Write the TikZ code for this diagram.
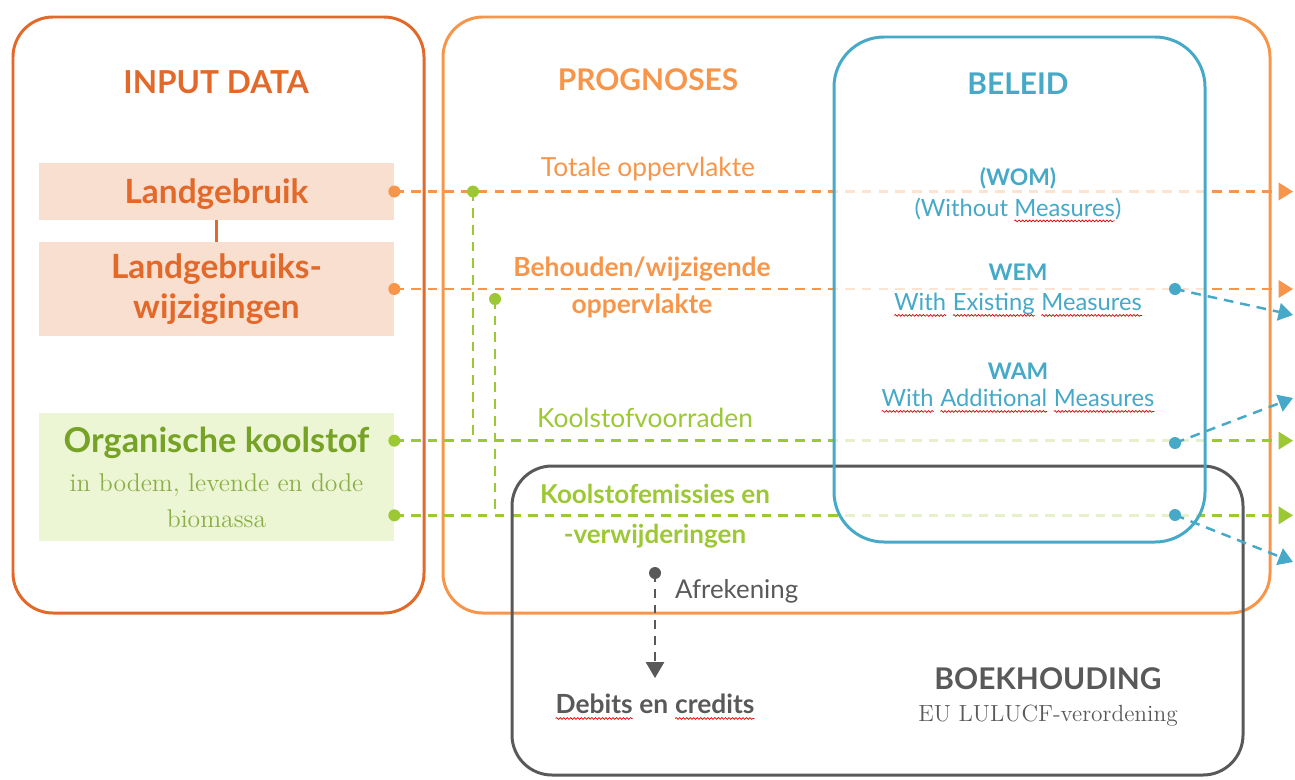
\documentclass[tikz,border=0pt]{standalone}
\usepackage{fontspec}
\setsansfont{Lato}
\definecolor{inorange}{HTML}{E2692A}
\definecolor{progorange}{HTML}{F7964A}
\definecolor{peach}{HTML}{F9DFD0}
\definecolor{leaf}{HTML}{9CC834}
\definecolor{leafdark}{HTML}{76A226}
\definecolor{leafserif}{HTML}{8AAF45}
\definecolor{leaflight}{HTML}{ECF6D4}
\definecolor{policyblue}{HTML}{45A9C7}
\definecolor{ledger}{HTML}{595959}
\usepackage{tikz}
\usetikzlibrary{arrows.meta,positioning,calc,decorations.pathmorphing}

\newcommand\spellwave[1]{\tikz[baseline=(sw.base)]{%
  \node[inner sep=0pt, outer sep=0pt, anchor=base] (sw) {#1};
  \draw[red!85!black, line width=0.4pt, decorate,
    decoration={snake, amplitude=0.5pt, segment length=2pt}]
    ([yshift=-2.6pt]sw.base west) -- ([yshift=-2.6pt]sw.base east);}}

\begin{document}
\begin{tikzpicture}[
  groupframe/.style={line width=1.7pt, rounded corners=0.8cm},
  inbox/.style={rectangle, minimum width=7.1cm, inner sep=0pt, align=center},
  boxhead/.style={font=\sffamily\bfseries\fontsize{17}{20}\selectfont},
  flow/.style={line width=1.4pt, dash pattern=on 5.5pt off 4pt},
  flowtip/.style={-{Triangle[length=2.9mm,width=3.5mm]}},
  lbl/.style={font=\sffamily\fontsize{15}{21}\selectfont, align=center},
  lblb/.style={font=\sffamily\bfseries\fontsize{15}{21}\selectfont, align=center},
  scen/.style={font=\sffamily\bfseries\fontsize{13}{16}\selectfont, text=policyblue},
  scentext/.style={font=\sffamily\fontsize{13.5}{16}\selectfont, text=policyblue}
]
  \useasboundingbox (0,0) rectangle (25.9,-15.58);

  % frames
  \draw[groupframe, inorange] (0.26,-0.34) rectangle (8.48,-12.26);
  \draw[groupframe, progorange] (8.86,-0.34) rectangle (25.4,-12.26);
  \node[boxhead, text=inorange, font=\sffamily\bfseries\fontsize{18}{20}\selectfont]
    (intitle) at (4.32,-1.64) {INPUT DATA};
  \node[boxhead, text=progorange] (progtitle) at (12.96,-1.6) {PROGNOSES};

  % input data
  \node[inbox, fill=peach, minimum height=1.14cm, text=inorange, text depth=0pt,
    font=\sffamily\bfseries\fontsize{19}{22}\selectfont] (lgb) at (4.33,-3.83)
    {Landgebruik};
  \node[inbox, fill=peach, minimum height=1.88cm, text=inorange,
    font=\sffamily\bfseries\fontsize{19}{22.5}\selectfont] (lgbw) at (4.33,-5.78)
    {Landgebruiks-\\wijzigingen};
  \node[inbox, fill=leaflight, minimum height=2.56cm,
    font=\rmfamily\fontsize{14.6}{20.4}\selectfont] (org) at (4.33,-9.54)
    {{\color{leafdark}\sffamily\bfseries\fontsize{19.5}{22}\selectfont Organische koolstof}\\[2pt]
     {\color{leafserif}in bodem, levende en dode}\\{\color{leafserif}biomassa}};
  \draw[inorange, line width=1.2pt] (lgb) -- (lgbw);

  % flows
  \coordinate (rim) at (25.86,0);
  \coordinate (o1) at ([yshift=-0.56cm]org.north east);
  \coordinate (o2) at ([yshift=0.52cm]org.south east);
  \coordinate (v1) at (9.46,-3.83);
  \coordinate (v2) at (9.9,-5.98);
  \draw[flow, flowtip, progorange] (lgb.east) -- (lgb.east -| rim);
  \draw[flow, flowtip, progorange] (lgbw.east) -- (lgbw.east -| rim);
  \draw[flow, flowtip, leaf] (o1) -- (o1 -| rim);
  \draw[flow, flowtip, leaf] (o2) -- (o2 -| rim);
  \draw[flow, leaf] (v1) -- (v1 |- o1);
  \draw[flow, leaf] (v2) -- (v2 |- o2);
  \foreach \p/\c in {lgb.east/progorange, lgbw.east/progorange, o1/leaf, o2/leaf, v1/leaf, v2/leaf}
    \fill[\c] (\p) circle (0.12);

  % beleid en boekhouding
  \fill[white, fill opacity=0.75, rounded corners=1cm] (16.68,-0.74) rectangle (24.1,-10.84);
  \draw[groupframe, ledger] (10.24,-9.32) rectangle (24.86,-15.5);
  \draw[groupframe, policyblue, rounded corners=1cm] (16.68,-0.74) rectangle (24.1,-10.84);

  \coordinate (w1) at (23.5,-5.78);
  \coordinate (w2) at (23.5,-8.86);
  \coordinate (w3) at (23.5,-10.3);
  \coordinate (t1) at (25.86,-6.3);
  \coordinate (t2) at (25.86,-7.96);
  \coordinate (t3) at (25.86,-11.24);
  \foreach \a/\b in {w1/t1, w2/t2, w3/t3} {
    \draw[flow, flowtip, policyblue] (\a) -- (\b);
    \fill[policyblue] (\a) circle (0.12);
  }

  % labels
  \node[lbl, text=progorange] (tot) at (12.96,-3.38) {Totale oppervlakte};
  \node[lblb, text=progorange] (beh) at (12.84,-5.74) {Behouden/wijzigende\\oppervlakte};
  \node[lbl, text=leaf] (kvr) at (12.9,-8.36) {Koolstofvoorraden};
  \node[lblb, text=leaf, font=\sffamily\bfseries\fontsize{14.8}{22.7}\selectfont] (kem)
    at (13.1,-10.32) {Koolstofemissies en\\-verwijderingen};

  \node[boxhead, text=policyblue] (beltitle) at (20.36,-1.68) {BELEID};
  \node[scen] (wom) at (20.36,-3.56) {(WOM)};
  \node[scentext] (womtxt) at (20.36,-4.2) {(Without \spellwave{Measures})};
  \node[scen] (wem) at (20.36,-5.44) {WEM};
  \node[scentext] (wemtxt) at (20.36,-6.1)
    {\spellwave{With} \spellwave{Existing} \spellwave{Measures}};
  \node[scen] (wam) at (20.36,-7.42) {WAM};
  \node[scentext] (wamtxt) at (20.36,-8.02)
    {\spellwave{With} \spellwave{Additional} \spellwave{Measures}};

  % afrekening
  \node[font=\sffamily\bfseries\fontsize{15}{17}\selectfont, text=ledger] (deb)
    at (13.1,-14.14) {\spellwave{Debits} en \spellwave{credits}};
  \coordinate (afr) at (13.1,-11.46);
  \coordinate (afrend) at ([yshift=0.2cm]deb.north);
  \draw[ledger, line width=1.4pt, dash pattern=on 5pt off 4pt,
    -{Triangle[length=3.2mm,width=3.6mm]}] (afr) -- (afrend);
  \fill[ledger] (afr) circle (0.12);
  \node[lbl, text=ledger, anchor=west, font=\sffamily\fontsize{14.7}{17}\selectfont]
    (afrlbl) at (13.38,-11.82) {Afrekening};
  \node[boxhead, text=ledger] (boek) at (20.96,-13.58) {BOEKHOUDING};
  \node[font=\rmfamily\fontsize{13.3}{16}\selectfont, text=ledger, below=0.05cm of boek] (eu)
    {EU LULUCF-verordening};
\end{tikzpicture}
\end{document}
